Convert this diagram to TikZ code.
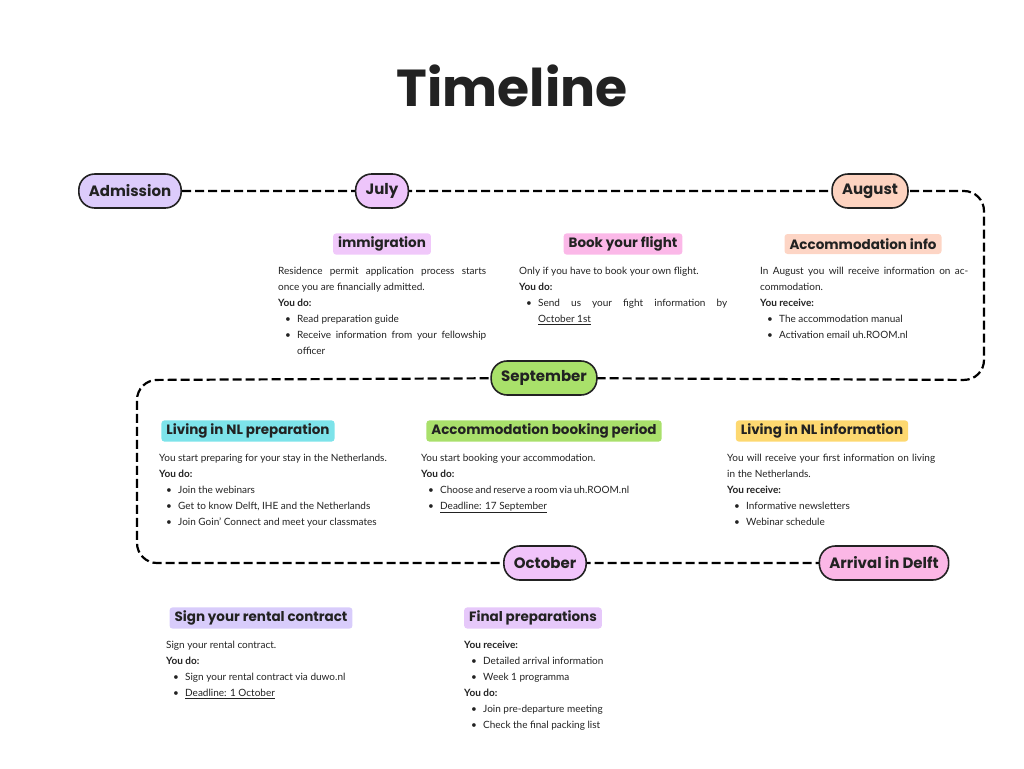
\documentclass[tikz,border=0pt]{standalone}
\usepackage{fontspec}
\setmainfont{Lato}
\newfontfamily\hd{Poppins}
\usetikzlibrary{backgrounds}
\definecolor{cAdm}{HTML}{DCCBFB}
\definecolor{cJul}{HTML}{EEC5FB}
\definecolor{cAug}{HTML}{FDD3C0}
\definecolor{cSep}{HTML}{A9E16A}
\definecolor{cOct}{HTML}{F1C4FA}
\definecolor{cArr}{HTML}{FBB7E6}
\definecolor{lImm}{HTML}{F0C8FA}
\definecolor{lFli}{HTML}{FBB8E8}
\definecolor{lAcc}{HTML}{FDD5C5}
\definecolor{lPre}{HTML}{7DE3EA}
\definecolor{lBoo}{HTML}{A9E06B}
\definecolor{lInf}{HTML}{FDD870}
\definecolor{lSig}{HTML}{D8CCFB}
\definecolor{lFin}{HTML}{E6C8FA}
\definecolor{txt}{HTML}{222222}
\newcommand\itm{\par\noindent\hangindent=19pt\hangafter=1\hspace*{7pt}\makebox[12pt][l]{\textbullet}}
\newcommand\yd[1]{\par\noindent\textbf{#1}}
\begin{document}
\begin{tikzpicture}[x=1pt,y=-1pt,
  pill/.style={draw=txt,line width=1.6pt,rounded corners=16pt,minimum height=34pt,inner xsep=10pt,font=\hd\bfseries\fontsize{15}{15}\selectfont,text=txt},
  lab/.style={rounded corners=3pt,inner xsep=5pt,minimum height=20pt,font=\hd\bfseries\fontsize{13.5}{13.5}\selectfont,text=txt},
  body/.style={anchor=north west,inner sep=0pt,text width=#1,align=justify,font=\fontsize{10}{16}\selectfont,text=txt},
  tl/.style={line width=2.2pt,dash pattern=on 9pt off 4pt,rounded corners=20pt}]
\useasboundingbox (0,0) rectangle (1024,768);
\node[font=\hd\bfseries\fontsize{52}{52}\selectfont,text=txt] (title) at (512,86) {Timeline};
\node[pill,fill=cAdm] (adm) at (130,191) {Admission};
\node[pill,fill=cJul] (jul) at (382,191) {July};
\node[pill,fill=cAug] (aug) at (870,191) {August};
\node[pill,fill=cSep] (sep) at (544,378) {September};
\node[pill,fill=cOct] (oct) at (545,563) {October};
\node[pill,fill=cArr] (arr) at (884,563) {Arrival in Delft};
\coordinate (c1) at (984,191);
\coordinate (c2) at (984,380);
\coordinate (c3) at (137,380);
\coordinate (c4) at (137,563);
\begin{scope}[on background layer]
\draw[tl] (adm.center) -- (jul.center) -- (aug.center) -- (c1) -- (c2) -- (sep.center) -- (c3) -- (c4) -- (oct.center) -- (arr.center);
\end{scope}
% July
\node[lab,fill=lImm] (limm) at (382,244) {immigration};
\node[body=208pt] (bimm) at (278,267) {Residence permit application process starts once you are financially admitted.
\yd{You do:}
\itm Read preparation guide
\itm Receive information from your fellowship officer\par};
\node[lab,fill=lFli] (lfli) at (623,244) {Book your flight};
\node[body=208pt] (bfli) at (519,267) {Only if you have to book your own flight.
\yd{You do:}
\itm Send us your fight information by \underline{October 1st}\par};
\node[lab,fill=lAcc] (lacc) at (863,244) {Accommodation info};
\node[body=208pt] (bacc) at (760,267) {In August you will receive information on accommodation.
\yd{You receive:}
\itm The accommodation manual
\itm Activation email uh.ROOM.nl\par};
% September
\node[lab,fill=lPre] (lpre) at (248,431) {Living in NL preparation};
\node[body=240pt] (bpre) at (159,454) {You start preparing for your stay in the Netherlands.
\yd{You do:}
\itm Join the webinars
\itm Get to know Delft, IHE and the Netherlands
\itm Join Goin' Connect and meet your classmates\par};
\node[lab,fill=lBoo] (lboo) at (544,431) {Accommodation booking period};
\node[body=208pt] (bboo) at (421,454) {You start booking your accommodation.
\yd{You do:}
\itm Choose and reserve a room via uh.ROOM.nl
\itm \underline{Deadline: 17 September}\par};
\node[lab,fill=lInf] (linf) at (822,431) {Living in NL information};
\node[body=208pt] (binf) at (727,454) {You will receive your first information on living in the Netherlands.
\yd{You receive:}
\itm Informative newsletters
\itm Webinar schedule\par};
% October
\node[lab,fill=lSig] (lsig) at (261,618) {Sign your rental contract};
\node[body=208pt] (bsig) at (166,641) {Sign your rental contract.
\yd{You do:}
\itm Sign your rental contract via duwo.nl
\itm \underline{Deadline: 1 October}\par};
\node[lab,fill=lFin] (lfin) at (533,618) {Final preparations};
\node[body=208pt] (bfin) at (464,641) {\noindent\textbf{You receive:}
\itm Detailed arrival information
\itm Week 1 programma
\yd{You do:}
\itm Join pre-departure meeting
\itm Check the final packing list\par};
\end{tikzpicture}
\end{document}
